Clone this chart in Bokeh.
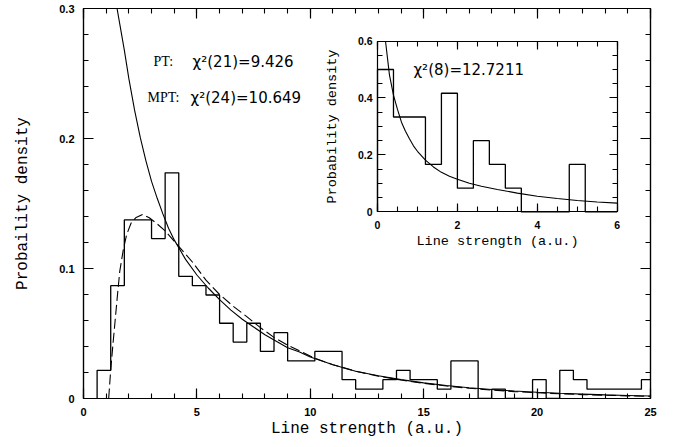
from bokeh.plotting import figure
from bokeh.models import Range1d, LinearAxis, FixedTicker, Label, CustomLabelingPolicy
from bokeh.embed import file_html
from bokeh.resources import INLINE

# ---------------- data ----------------
# main histogram (bin width 0.6, first edge 0.6)
main_first_edge = 0.6
main_bin_width = 0.6
main_density = [0.0217, 0.0868, 0.1374, 0.1374, 0.1230, 0.1736, 0.0940, 0.0868,
                0.0796, 0.0579, 0.0434, 0.0579, 0.0362, 0.0506, 0.0289, 0.0289,
                0.0362, 0.0362, 0.0145, 0.0072, 0.0072, 0.0145, 0.0217, 0.0145,
                0.0145, 0.0072, 0.0289, 0.0289, 0.0, 0.0072, 0.0, 0.0,
                0.0145, 0.0, 0.0217, 0.0145, 0.0072, 0.0072, 0.0072, 0.0072,
                0.0145]

# PT fit (solid) and MPT fit (dashed)
pt_x = [1.45, 1.6, 1.8, 2.0, 2.25, 2.5, 2.75, 3.0, 3.25, 3.5, 3.75, 4.0, 4.5, 5.0,
        5.5, 6.0, 6.5, 7.0, 7.5, 8.0, 8.5, 9.0, 9.5, 10, 11, 12, 13, 14, 15, 16,
        17, 18, 19, 20, 21, 22, 23, 24, 25]
pt_y = [0.303, 0.288, 0.268, 0.246, 0.222, 0.201, 0.183, 0.167, 0.154, 0.142, 0.131,
        0.122, 0.107, 0.095, 0.085, 0.076, 0.068, 0.061, 0.055, 0.049, 0.044, 0.039,
        0.036, 0.032, 0.026, 0.021, 0.0175, 0.0145, 0.012, 0.010, 0.0083, 0.0069,
        0.0058, 0.0048, 0.0040, 0.0034, 0.0028, 0.0023, 0.0019]
mpt_x = [1.11, 1.2, 1.3, 1.4, 1.5, 1.6, 1.75, 1.9, 2.1, 2.3, 2.6, 2.9, 3.2, 3.6,
         4.2, 4.8, 5.4, 6.0, 6.6, 7.2, 7.8, 8.4, 9.0, 9.6, 10.2, 11, 12, 13, 14,
         15, 16, 17, 18, 19, 20, 21, 22, 23, 24, 25]
mpt_y = [0.0, 0.022, 0.042, 0.061, 0.080, 0.098, 0.114, 0.126, 0.135, 0.139, 0.1415,
         0.139, 0.135, 0.129, 0.117, 0.105, 0.091, 0.080, 0.071, 0.063, 0.0545,
         0.047, 0.041, 0.036, 0.031, 0.026, 0.021, 0.0172, 0.0142, 0.0117, 0.0096,
         0.0079, 0.0065, 0.0053, 0.0044, 0.0036, 0.0030, 0.0025, 0.0020, 0.0017]

# inset histogram (bin width 0.4, first edge 0)
inset_first_edge = 0.0
inset_bin_width = 0.4
inset_density = [0.5, 0.3333, 0.3333, 0.1667, 0.4167, 0.0833, 0.25, 0.1667,
                 0.0833, 0.0, 0.0, 0.0, 0.1667, 0.0, 0.0]
inset_fit_x = [0.2, 0.25, 0.3, 0.4, 0.5, 0.6, 0.7, 0.8, 0.9, 1.0, 1.2, 1.4, 1.6,
               1.8, 2.0, 2.3, 2.6, 3.0, 3.5, 4.0, 4.5, 5.0, 5.5, 6.0]
inset_fit_y = [0.60, 0.54, 0.48, 0.41, 0.36, 0.315, 0.283, 0.257, 0.232, 0.213,
               0.182, 0.158, 0.139, 0.125, 0.115, 0.101, 0.090, 0.079, 0.066,
               0.055, 0.047, 0.040, 0.035, 0.031]

# ticks
main_x_ticks = [0, 5, 10, 15, 20, 25]
main_y_ticks = [0, 0.1, 0.2, 0.3]
inset_x_ticks = [0, 2, 4, 6]
inset_y_ticks = [0, 0.2, 0.4, 0.6]
main_x_minor, main_y_minor = 1, 0.02
inset_x_minor, inset_y_minor = 0.5, 0.05

pt_text = ["PT:", "\u03c7\u00b2(21)=9.426"]
mpt_text = ["MPT:", "\u03c7\u00b2(24)=10.649"]
inset_text = "\u03c7\u00b2(8)=12.7211"


def outline(first_edge, width, heights):
    xs, ys = [first_edge], [0.0]
    for i, h in enumerate(heights):
        xs += [first_edge + i * width, first_edge + (i + 1) * width]
        ys += [h, h]
    xs.append(first_edge + len(heights) * width)
    ys.append(0.0)
    return xs, ys


def ticker(major, step):
    n = int(round((major[-1] - major[0]) / step))
    minor = [round(major[0] + k * step, 6) for k in range(n + 1)]
    return FixedTicker(ticks=major, minor_ticks=minor)


# ---------------- figure ----------------
X0, X1, Y0, Y1 = 0, 25, 0, 0.3
p = figure(width=670, height=444, x_range=Range1d(X0, X1), y_range=Range1d(Y0, Y1),
           output_backend="svg", toolbar_location=None,
           min_border_left=83, min_border_right=20, min_border_top=8,
           min_border_bottom=46)
p.background_fill_color = "white"
p.border_fill_color = "white"
p.outline_line_color = "black"
p.outline_line_width = 1.2
p.xgrid.visible = False
p.ygrid.visible = False

TICK_FONT = "Liberation Sans"
LABEL_FONT = "Liberation Mono"

HIDE_LABELS = """
for (const i of Array.from(indices)) { indices.unset(i) }
return indices
"""


def style_axis(ax, major_in, minor_in, label_size, show_labels=True):
    ax.major_tick_in = major_in
    ax.major_tick_out = 0
    ax.minor_tick_in = minor_in
    ax.minor_tick_out = 0
    ax.axis_line_color = "black"
    ax.axis_line_width = 1.2
    ax.major_tick_line_color = "black"
    ax.major_tick_line_width = 1.2
    ax.minor_tick_line_color = "black"
    ax.minor_tick_line_width = 1.1
    ax.major_label_text_font = TICK_FONT
    ax.major_label_text_font_style = "bold"
    ax.major_label_text_color = "black"
    ax.axis_label_text_font = LABEL_FONT
    ax.axis_label_text_font_style = "normal"
    ax.axis_label_text_color = "black"
    if show_labels:
        ax.major_label_text_font_size = label_size
    else:
        ax.major_label_text_font_size = "1px"
        ax.major_label_standoff = 0
        ax.major_label_policy = CustomLabelingPolicy(code=HIDE_LABELS)


# main axes
xa = p.xaxis[0]
ya = p.yaxis[0]
xa.ticker = ticker(main_x_ticks, main_x_minor)
ya.ticker = ticker(main_y_ticks, main_y_minor)
style_axis(xa, 10, 5, "11px")
style_axis(ya, 10, 5, "11px")
ya.major_label_overrides = {0: "0"}
xa.major_label_standoff = 9
ya.major_label_standoff = 9
xa.axis_label = "Line strength (a.u.)"
ya.axis_label = "Probaility density"
xa.axis_label_text_font_size = "16px"
ya.axis_label_text_font_size = "16px"
xa.axis_label_standoff = 1
ya.axis_label_standoff = 24

top = LinearAxis(ticker=ticker(main_x_ticks, main_x_minor))
style_axis(top, 10, 5, "1px", show_labels=False)
p.add_layout(top, "above")
right = LinearAxis(ticker=ticker(main_y_ticks, main_y_minor))
style_axis(right, 10, 5, "1px", show_labels=False)
p.add_layout(right, "right")

# main histogram and fits
hx, hy = outline(main_first_edge, main_bin_width, main_density)
p.line(hx, hy, line_color="black", line_width=1.3)
p.line(pt_x, pt_y, line_color="black", line_width=1.1)
p.line(mpt_x, mpt_y, line_color="black", line_width=1.1, line_dash="10 4")

p.add_layout(Label(x=3.09, y=0.2592, text=pt_text[0], text_font="Liberation Serif",
                   text_font_size="14px", text_baseline="middle", text_color="black"))
p.add_layout(Label(x=4.81, y=0.2592, text=pt_text[1], text_font="DejaVu Sans",
                   text_font_size="15px", text_baseline="middle", text_color="black"))
p.add_layout(Label(x=2.82, y=0.2315, text=mpt_text[0], text_font="Liberation Serif",
                   text_font_size="14px", text_baseline="middle", text_color="black"))
p.add_layout(Label(x=4.72, y=0.2315, text=mpt_text[1], text_font="DejaVu Sans",
                   text_font_size="15px", text_baseline="middle", text_color="black"))

# ---------------- inset (own ranges mapped into a box of the main frame) -------------
IX0, IX1, IY0, IY1 = 0, 6, 0, 0.6
box_x = (12.963, 23.532)   # inset box, in main-axis units
box_y = (0.1435, 0.275)
sx = (box_x[1] - box_x[0]) / (IX1 - IX0)
sy = (box_y[1] - box_y[0]) / (IY1 - IY0)
p.extra_x_ranges = {"ix": Range1d(IX0 - (box_x[0] - X0) / sx, IX1 + (X1 - box_x[1]) / sx)}
p.extra_y_ranges = {"iy": Range1d(IY0 - (box_y[0] - Y0) / sy, IY1 + (Y1 - box_y[1]) / sy)}


def inset_axis(loc, fixed, bounds, tk, labels=True):
    ax = LinearAxis(x_range_name="ix", y_range_name="iy", fixed_location=fixed,
                    bounds=bounds, ticker=tk)
    style_axis(ax, 8, 5, "10.5px", show_labels=labels)
    p.add_layout(ax, loc)
    return ax


ib = inset_axis("below", IY0, (IX0, IX1), ticker(inset_x_ticks, inset_x_minor))
ib.major_label_standoff = 9
ib.axis_label = "Line strength (a.u.)"
ib.axis_label_text_font_size = "13.5px"
ib.axis_label_standoff = 2
il = inset_axis("left", IX0, (IY0, IY1), ticker(inset_y_ticks, inset_y_minor))
il.major_label_standoff = 5
il.major_label_overrides = {0: "0"}
il.axis_label = "Probability density"
il.axis_label_text_font_size = "13.5px"
il.axis_label_standoff = 15
inset_axis("above", IY1, (IX0, IX1), ticker(inset_x_ticks, inset_x_minor), labels=False)
inset_axis("right", IX1, (IY0, IY1), ticker(inset_y_ticks, inset_y_minor), labels=False)

ihx, ihy = outline(inset_first_edge, inset_bin_width, inset_density)
p.line(ihx, ihy, line_color="black", line_width=1.3, x_range_name="ix", y_range_name="iy")
p.line(inset_fit_x, inset_fit_y, line_color="black", line_width=1.1,
       x_range_name="ix", y_range_name="iy")
p.add_layout(Label(x=0.9, y=0.4965, text=inset_text, text_font="DejaVu Sans",
                   text_font_size="15px", text_baseline="middle", text_color="black",
                   x_range_name="ix", y_range_name="iy"))

open("out.html", "w").write(file_html(p, INLINE))
